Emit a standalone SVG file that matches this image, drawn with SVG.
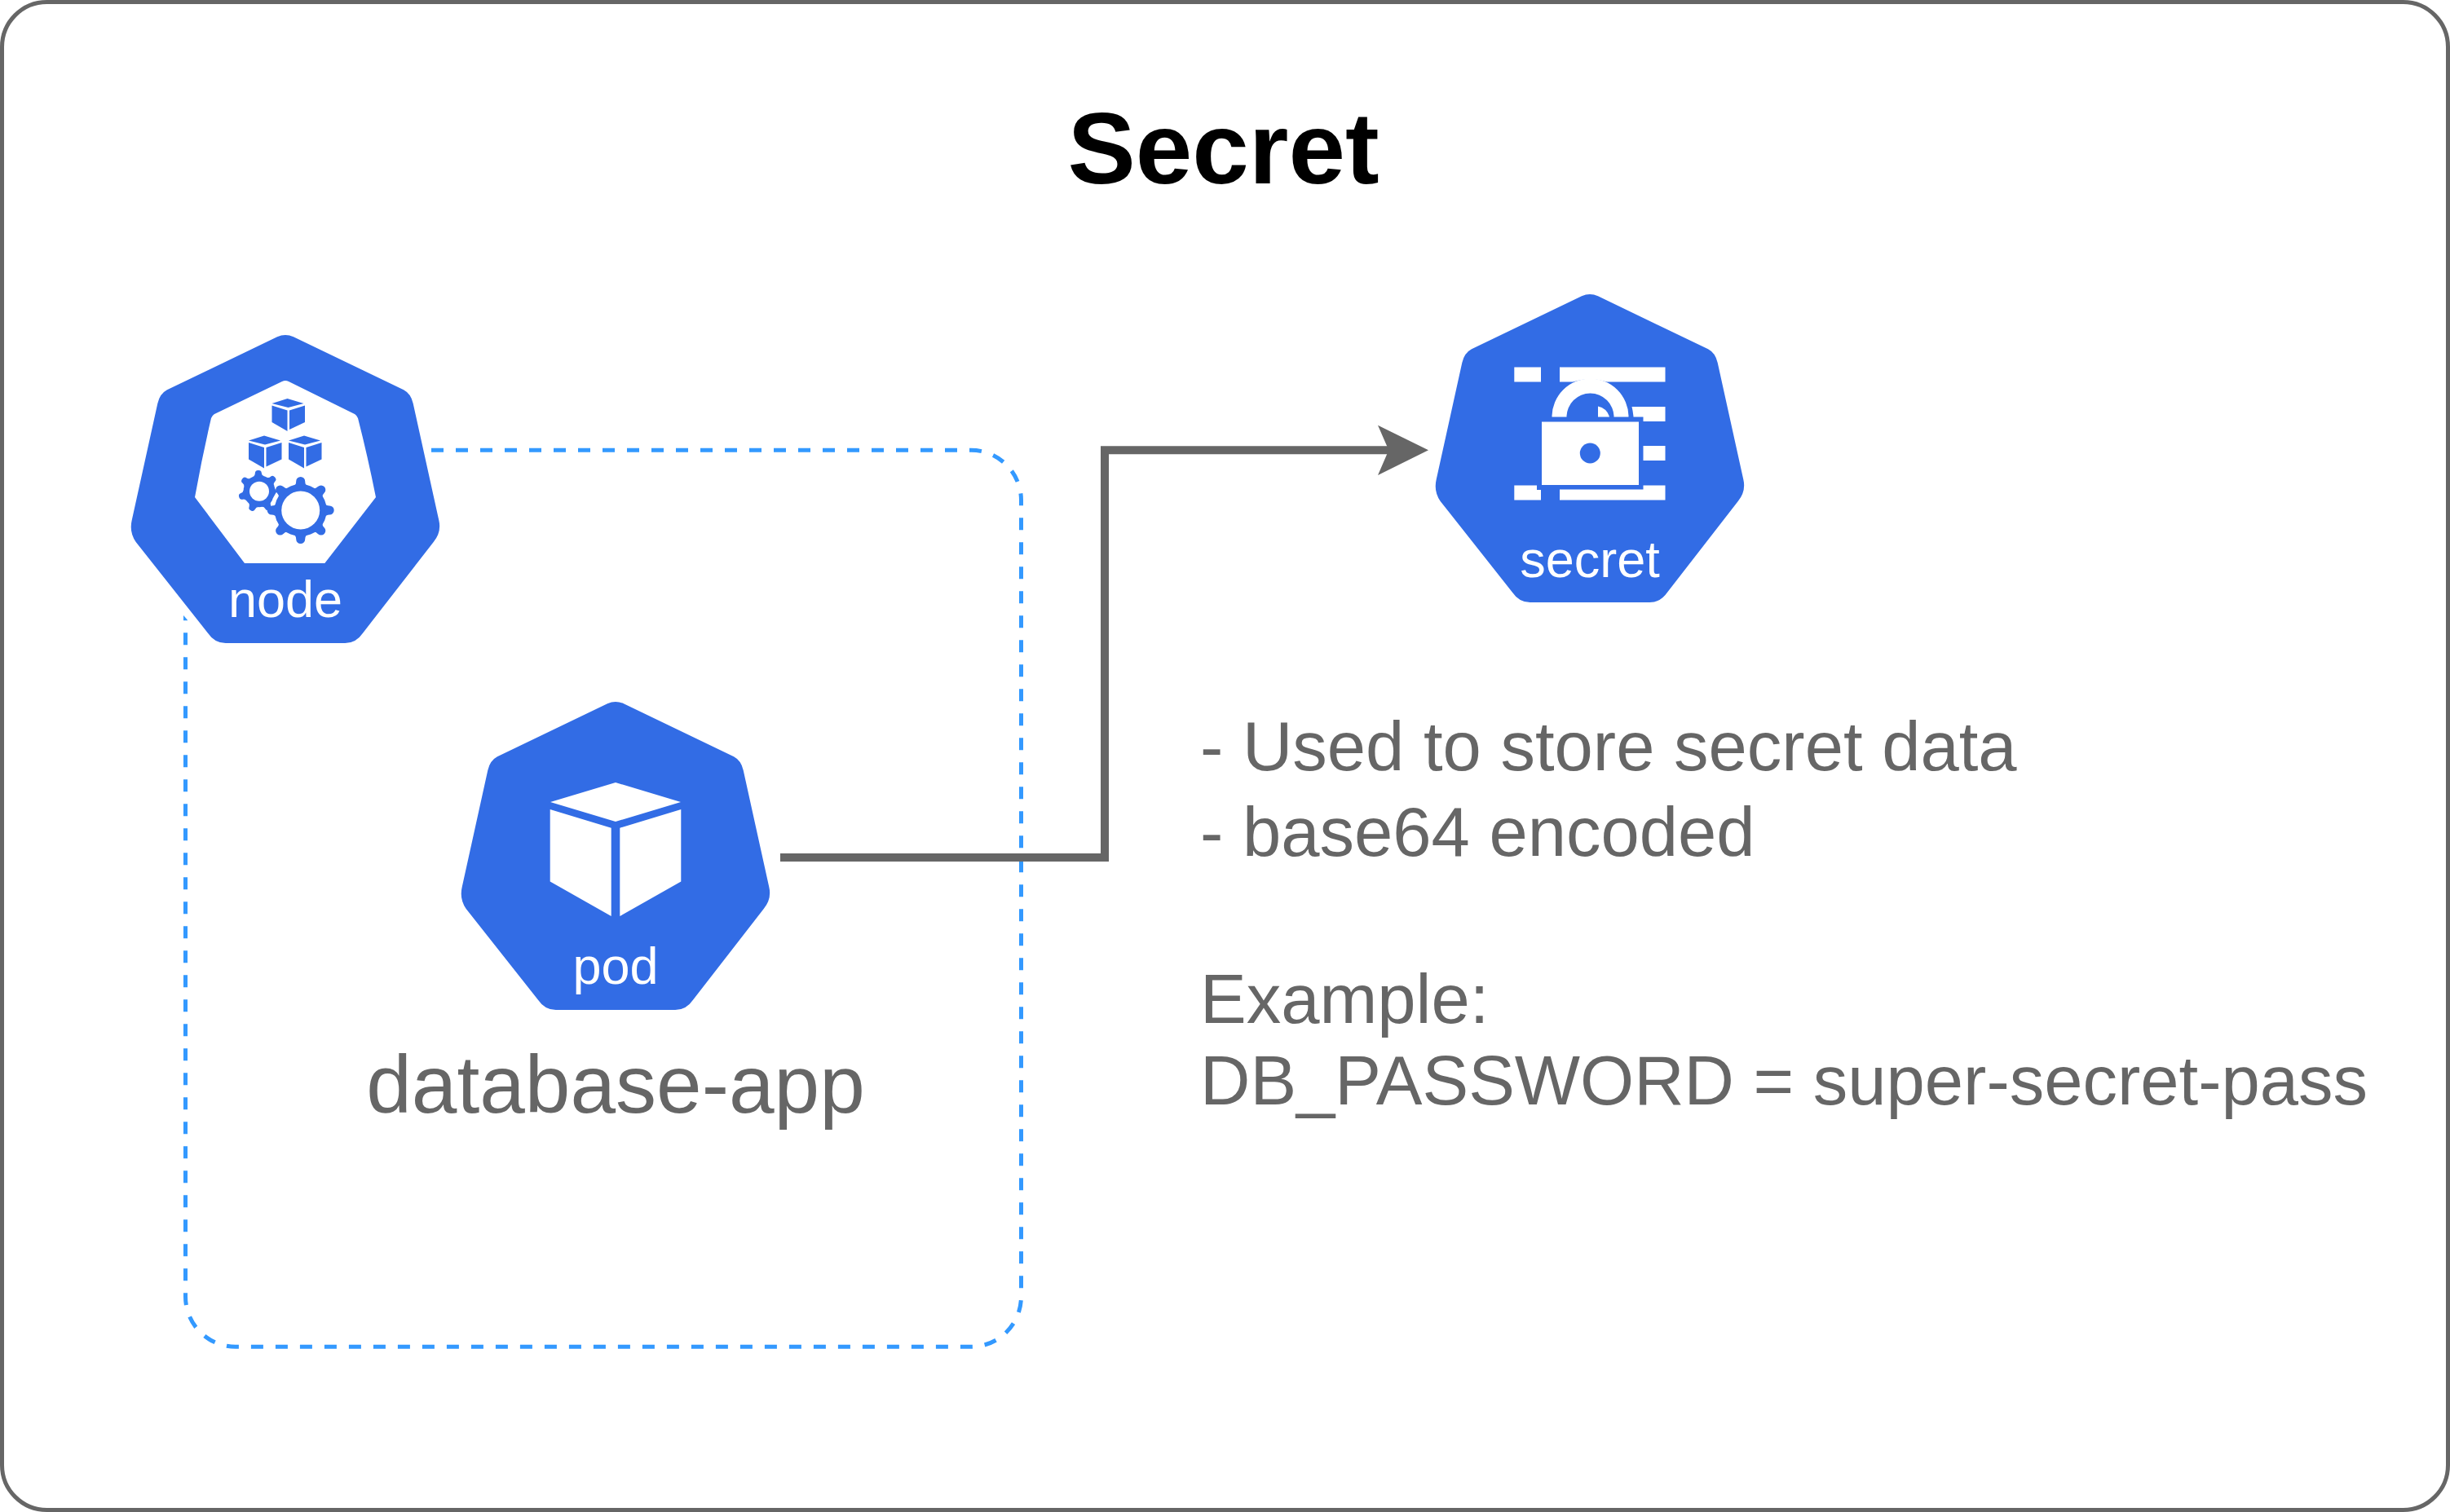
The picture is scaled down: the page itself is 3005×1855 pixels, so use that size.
<svg xmlns="http://www.w3.org/2000/svg" width="3005" height="1855" viewBox="0 0 3005 1855">
<style>
text{font-family:"Liberation Sans",Arial,sans-serif}
.lbl{fill:#fff;font-size:63px;text-anchor:middle}
.body{fill:#326ce5}
.w{fill:#fff}
.t{fill:#666;font-size:85px}
</style>
<defs>
<path id="hept" d="M200,23.3 Q210,18.5 220,23.3 L355,88.3 Q364,93 366.7,105 L398.3,248.3 Q401.7,263 391.7,275 L305,386.7 Q296.7,399 283.3,399 L136.7,399 Q123.3,399 115,386.7 L26.7,275 Q18.3,263 21.7,248.3 L53.3,105 Q56,93 65,88.3 Z"/>
<g id="cube" class="body">
<path d="M0,8 L19,2 L39,8 L20,13 Z"/>
<path d="M0,10.500 L19,16.500 L19,42 L0,31 Z"/>
<path d="M21.500,16.500 L40.500,10.500 L40.500,31 L21.500,40 Z"/>
</g>
<path id="tooth" class="body" d="M-9,-29 Q-5.500,-31 -5.500,-35.500 A5.500,5.500 0 0 1 5.500,-35.500 Q5.500,-31 9,-29 Z"/>
</defs>
<rect id="frame" x="2.500" y="2.500" width="3000" height="1850" rx="55" ry="55" fill="#fff" stroke="#666" stroke-width="5"/>
<text x="1500.500" y="225" font-size="125" font-weight="700" text-anchor="middle" fill="#000">Secret</text>
<g id="connectors" fill="none">
<rect id="node-boundary" x="227.500" y="552.300" width="1025" height="1100" rx="61.500" ry="61.500" stroke="#3399ff" stroke-width="5" stroke-dasharray="15 15"/>
<path d="M222,735 H235 V766.400 L222,751.600 Z" fill="#fff"/>
<path d="M957,1052 H1355 V552.300 H1705" stroke="#666" stroke-width="10"/>
<path d="M1752,552.300 L1690,521.700 L1703.300,552.300 L1690,583 Z" fill="#666"/>
</g>
<g id="node" transform="translate(140,390)">
<use href="#hept" class="body"/>
<path class="w" d="M206,78 Q210,76 214,78 L295,118 Q298,120 299,123 Q311,170 321,220 L258.300,301 L160,301 L99,220 Q108,170 119,123 Q120,120 123,118 Z"/>
<use href="#cube" transform="translate(193.500,97)"/>
<use href="#cube" transform="translate(165,142.500)"/>
<use href="#cube" transform="translate(214,142.500)"/>
<g transform="translate(178,212.700)">
<circle r="19.500" class="body"/>
<use href="#tooth" transform="rotate(-3) scale(.72,.63)"/><use href="#tooth" transform="rotate(48) scale(.72,.63)"/><use href="#tooth" transform="rotate(100) scale(.72,.63)"/><use href="#tooth" transform="rotate(151) scale(.72,.63)"/><use href="#tooth" transform="rotate(203) scale(.72,.63)"/><use href="#tooth" transform="rotate(254) scale(.72,.63)"/><use href="#tooth" transform="rotate(306) scale(.72,.63)"/>
<circle r="12" class="w"/>
</g>
<g transform="translate(228.700,236)">
<circle r="37" class="w"/>
<circle r="32" class="body"/>
<use href="#tooth"/><use href="#tooth" transform="rotate(45)"/><use href="#tooth" transform="rotate(90)"/><use href="#tooth" transform="rotate(135)"/><use href="#tooth" transform="rotate(180)"/><use href="#tooth" transform="rotate(225)"/><use href="#tooth" transform="rotate(270)"/><use href="#tooth" transform="rotate(315)"/>
<circle r="23.500" class="w"/>
</g>
<text class="lbl" x="210" y="366.500">node</text>
</g>
<g id="secret" transform="translate(1740,340)">
<use href="#hept" class="body"/>
<path class="w" d="M117.300,110.500 H150 V128.500 H117.300 Z M173,110.500 H302.500 V128.500 H231 Q210,122 189,128.500 H173 Z M261.500,159 H302.500 V177 H275.500 V171.500 H263.500 Q263,165 261.500,159 Z M275.500,207 H302.500 V225 H275.500 Z M117.300,255.500 H145 V261 H150 V273.500 H117.300 Z M173,260.500 H275.500 V255.500 H302.500 V273.500 H173 Z"/>
<path class="w" d="M151,177.500 H270 V255 H151 Z"/>
<circle cx="210.300" cy="216" r="12.500" class="body"/>
<path class="w" d="M163.500,171.500 A47,47 0 0 1 257.500,171.500 H239.500 A29,29 0 0 0 181.500,171.500 Z M220,171.500 V158.500 Q231,161 234,171.500 Z"/>
<text class="lbl" x="210" y="368">secret</text>
</g>
<g id="pod" transform="translate(545,840)">
<use href="#hept" class="body"/>
<path class="w" d="M130,144 L210,120 L290,144 L210,168 Z M129.700,153 L204.700,175.700 V284 L129.700,241.500 Z M215.300,175.700 L290.300,153 V241.500 L215.300,284 Z"/>
<text class="lbl" x="210" y="366.500">pod</text>
</g>
<text class="t" x="755" y="1365" style="font-size:100px;text-anchor:middle">database-app</text>
<g id="notes">
<text class="t" x="1472" y="945">- Used to store secret data</text>
<text class="t" x="1472" y="1050">- base64 encoded</text>
<text class="t" x="1472" y="1255">Example:</text>
<text class="t" x="1472" y="1355">DB_PASSWORD = super-secret-pass</text>
</g>
</svg>
